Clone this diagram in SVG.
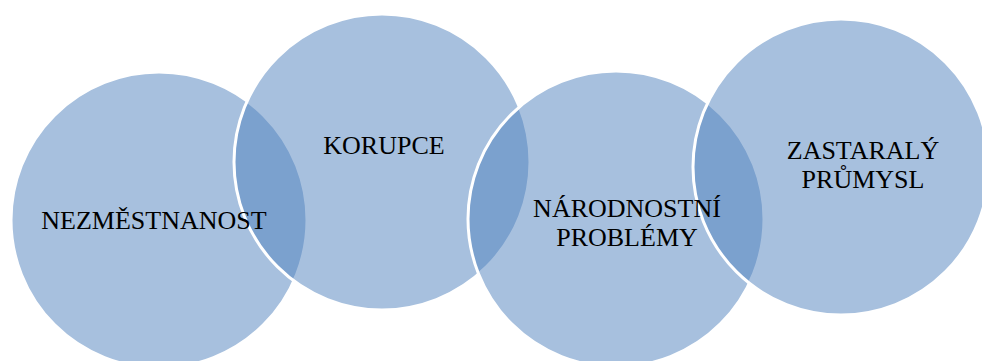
<svg xmlns="http://www.w3.org/2000/svg" width="982" height="361" viewBox="0 0 982 361">
<style>
.c{fill:#4F81BD;fill-opacity:0.5;stroke:#FFFFFF;stroke-width:3}
.t{font-family:"Liberation Serif","Times New Roman",serif;font-size:26px;fill:#000000;text-anchor:middle}
</style>
<rect width="982" height="361" fill="#FFFFFF"/>
<g id="node1"><circle class="c" cx="159" cy="220" r="148"/></g>
<g id="node2"><circle class="c" cx="382" cy="162" r="148"/></g>
<g id="node3"><circle class="c" cx="616" cy="219" r="148"/></g>
<g id="node4"><circle class="c" cx="841" cy="167" r="148"/></g>
<g id="labels">
<text class="t" x="154" y="229">NEZMĚSTNANOST</text>
<text class="t" x="384" y="154">KORUPCE</text>
<text class="t" x="627" y="217">NÁRODNOSTNÍ</text>
<text class="t" x="627" y="246">PROBLÉMY</text>
<text class="t" x="863" y="159">ZASTARALÝ</text>
<text class="t" x="863" y="188">PRŮMYSL</text>
</g>
<g id="connectors"></g>
</svg>
